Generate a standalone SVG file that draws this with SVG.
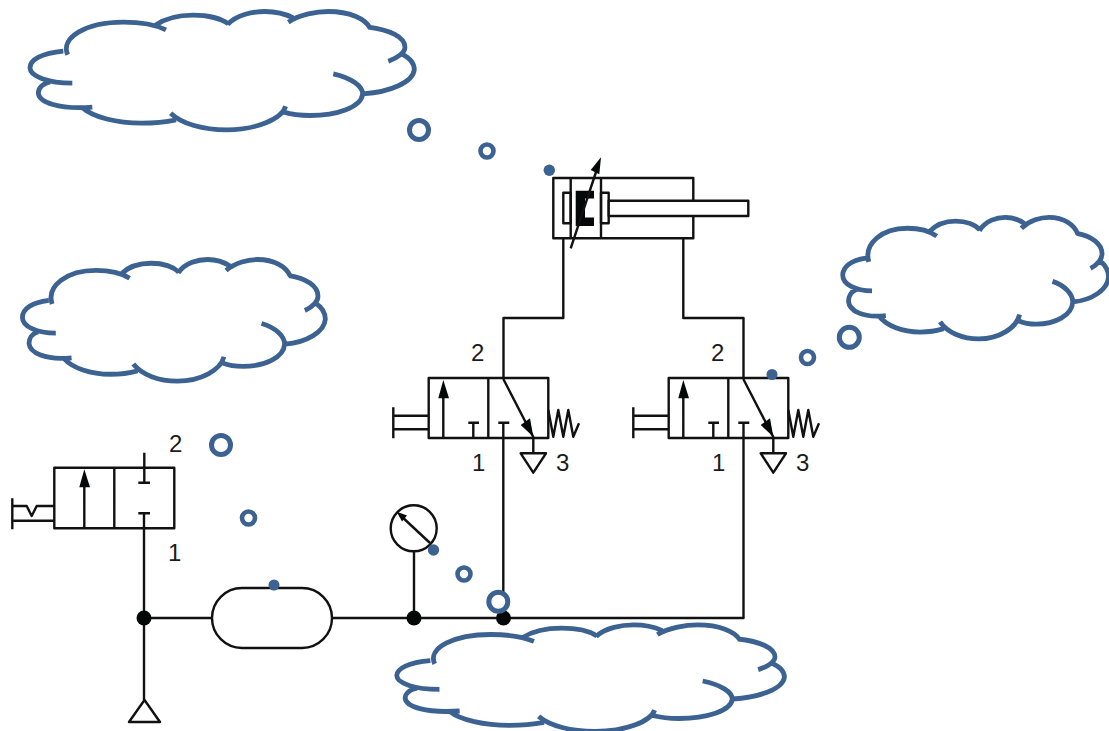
<svg xmlns="http://www.w3.org/2000/svg" width="1109" height="731" viewBox="0 0 1109 731">
<style>
.l{fill:none;stroke:#111;stroke-width:2.4;stroke-linejoin:round}
.w{fill:#fff;stroke:#111;stroke-width:2.4;stroke-linejoin:round}
.k{fill:#050808;stroke:none}
.t{font-family:"Liberation Sans",Arial,sans-serif;font-size:24px;fill:#1c1c1c}
.c{fill:none;stroke:#3b6291;stroke-width:4.8;vector-effect:non-scaling-stroke}
.r{fill:#fff;stroke:#3b6291}
.d{fill:#3b6291}
</style>
<defs>
<path id="cloud" class="c" d="M190,152C125,158 90,178 90,202C90,228 145,248 217,248M150,244C125,250 115,265 115,278C118,305 175,328 277,320M203,163C180,110 260,65 370,65C420,65 465,72 498,88M465,75C500,50 545,44 580,44C625,44 665,55 685,70M683,72C710,42 760,33 795,33C830,33 860,42 880,52M865,65C900,42 950,33 985,33C1050,33 1095,55 1110,82M1105,80C1170,88 1215,110 1215,140C1215,155 1195,172 1165,182M1205,160C1235,175 1243,195 1243,207C1240,245 1170,275 1090,280M1000,220C1055,232 1088,258 1088,280C1085,320 1010,345 930,345C900,345 875,342 852,335M857,317C845,355 770,388 680,388C610,388 545,370 512,338M528,358C490,366 455,368 425,368C350,368 280,350 248,322"/>
<g id="valve3">
<rect class="l" x="428.7" y="378" width="119.6" height="60"/>
<path class="l" d="M488.3,378V438M443.3,438V390M473.3,438V422.7M468.3,422.7H479M498.3,422.7H509.3M503.3,379L533.3,437V453M393.3,407.3V438.3M393.3,415.7H428.7M393.3,429.3H428.7M548.3,410L553.3,436.7L558.3,410L563.3,436.7L568.3,410L573.3,436.7L579,423.3"/>
<polygon class="k" points="438.3,398.3 443.3,380 449,398.3"/>
<polygon class="k" points="520.7,425 533.3,436.7 530,418.3"/>
<polygon class="l" points="520.7,453.3 546,453.3 533.3,472.7"/>
<text class="t" x="471" y="361">2</text>
<text class="t" x="472" y="471">1</text>
<text class="t" x="556" y="471">3</text>
</g>
</defs>
<g id="connectors">
<path class="l" d="M563.3,238V318H503.5V378M683.3,238V318H743.5V378M503.3,422.7V618M743.5,422.7V618H144M144,513.3V700M414,551V618"/>
</g>
<g id="cylinder">
<rect class="l" x="553.3" y="178" width="140" height="60.3"/>
<path class="l" d="M570.7,178V238.3M601,178V238.3"/>
<rect class="l" x="563.3" y="192.7" width="7.4" height="30.6"/>
<rect class="l" x="601" y="192.7" width="7.7" height="30.6"/>
<rect class="w" x="608.7" y="200.7" width="139.6" height="15.3"/>
<polygon class="k" points="575.7,190.7 594,190.7 594,198.5 585,198.5 585,217.5 594,217.5 594,226 575.7,226"/>
<path class="l" d="M570.7,248.3L598,166"/>
<polygon class="k" points="590.7,170 601,157.3 599.3,174.3"/>
</g>
<use id="valve-a" href="#valve3"/>
<use id="valve-b" href="#valve3" x="240"/>
<g id="valve-start">
<rect class="l" x="54.3" y="467.7" width="120" height="60.6"/>
<path class="l" d="M114.3,467.7V528.3M84.3,528.3V480M144.3,452.7V482.7M138.3,482.7H150M138.3,513.3H150M12.3,498.3V529.3M12.3,506H26.7L31.7,516L36.7,506H54.3M12.3,520.7H54.3"/>
<polygon class="k" points="79.3,487.3 84.3,469.3 90,487.3"/>
<text class="t" x="169" y="452">2</text>
<text class="t" x="168" y="561">1</text>
</g>
<g id="tank"><rect class="w" x="212" y="588" width="120" height="60" rx="30"/></g>
<g id="gauge">
<circle class="w" cx="413.7" cy="528.3" r="23"/>
<path class="l" d="M430,543L400,515"/>
<polygon class="k" points="396.7,511.7 407,515.5 402,521.5"/>
</g>
<g id="junctions">
<circle class="k" cx="144" cy="618" r="7.5"/>
<circle class="k" cx="414" cy="618" r="7.5"/>
<circle class="k" cx="503.5" cy="618" r="7.5"/>
</g>
<g id="exhaust"><polygon class="l" points="129,722 160,722 144.5,700"/></g>
<g id="cloud-top"><use href="#cloud" transform="matrix(.3333 0 0 .3333 0 .5)"/>
<circle class="r" cx="419" cy="130" r="9.5" stroke-width="5"/><circle class="r" cx="487" cy="151" r="6.5" stroke-width="4.6"/><circle class="d" cx="549.3" cy="170.3" r="5.7"/></g>
<g id="cloud-left"><use href="#cloud" transform="matrix(.2627 0 0 .3425 -1.2 248.2)"/>
<circle class="r" cx="221" cy="445" r="9.5" stroke-width="5"/><circle class="r" cx="248.5" cy="518" r="6.5" stroke-width="4.6"/><circle class="d" cx="274" cy="585" r="5.5"/></g>
<g id="cloud-right"><use href="#cloud" transform="matrix(.2305 0 0 .3425 822 206)"/>
<circle class="r" cx="849.3" cy="337.3" r="10" stroke-width="5"/><circle class="r" cx="807.5" cy="357.5" r="6.5" stroke-width="4.6"/><circle class="d" cx="772" cy="374.5" r="5.5"/></g>
<g id="cloud-bottom"><use href="#cloud" transform="matrix(.3362 0 0 .3 366.5 615)"/>
<circle class="r" cx="498.3" cy="601.7" r="9.5" stroke-width="5"/><circle class="r" cx="464" cy="574" r="6.5" stroke-width="4.6"/><circle class="d" cx="433.5" cy="550" r="5.7"/></g>
</svg>
